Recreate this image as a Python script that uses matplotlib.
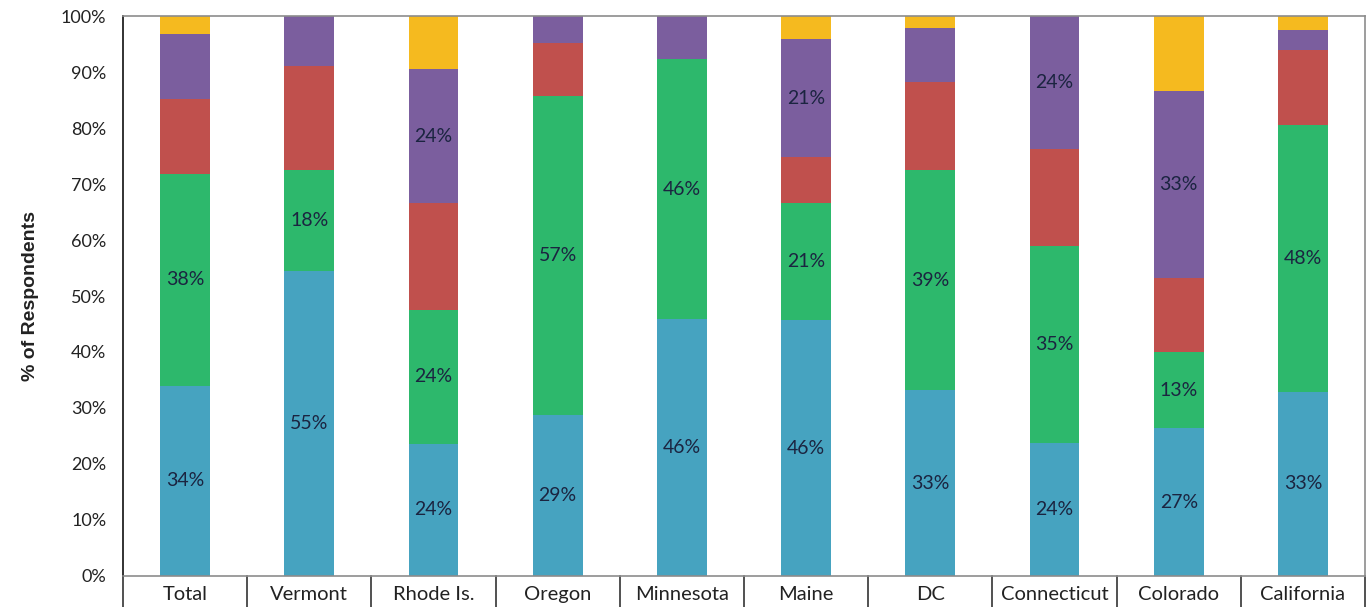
import matplotlib
matplotlib.use("Agg")
import matplotlib.pyplot as plt
import matplotlib.transforms as mtransforms
import numpy as np

# data (percent of respondents)
categories = ["Total", "Vermont", "Rhode Is.", "Oregon", "Minnesota",
              "Maine", "DC", "Connecticut", "Colorado", "California"]
blue = [34, 54.5, 23.6, 28.7, 45.9, 45.7, 33.2, 23.7, 26.4, 32.9]
green = [37.8, 18.0, 23.9, 57.0, 46.4, 20.9, 39.3, 35.2, 13.6, 47.6]
red = [13.4, 18.5, 19.1, 9.5, 0.0, 8.2, 15.7, 17.3, 13.2, 13.4]
purple = [11.6, 9.0, 23.9, 4.8, 7.7, 21.1, 9.7, 23.8, 33.4, 3.6]
yellow = [3.2, 0.0, 9.5, 0.0, 0.0, 4.1, 2.1, 0.0, 13.4, 2.5]

# which segments carry a label (None = no label)
blue_labels = ["34%", "55%", "24%", "29%", "46%", "46%", "33%", "24%", "27%", "33%"]
green_labels = ["38%", "18%", "24%", "57%", "46%", "21%", "39%", "35%", "13%", "48%"]
purple_labels = [None, None, "24%", None, None, "21%", None, "24%", "33%", None]

series = [blue, green, red, purple, yellow]
colors = ["#46A3C0", "#2DB86C", "#C0504D", "#7B5E9E", "#F5BA1F"]
series_labels = [blue_labels, green_labels, None, purple_labels, None]

fig = plt.figure(figsize=(13.69, 6.07), dpi=100)
ax = fig.add_axes([0.0898, 0.0511, 0.9073, 0.9225])

x = np.arange(len(categories))
bottom = np.zeros(len(categories))
for vals, col, labs in zip(series, colors, series_labels):
    vals = np.array(vals)
    ax.bar(x, vals, 0.4, bottom=bottom, color=col, edgecolor="none")
    if labs is not None:
        for i, lab in enumerate(labs):
            if lab is not None:
                ax.text(x[i], bottom[i] + vals[i] / 2, lab, ha="center", va="center",
                        fontsize=14, color="#1B2440", family="Lato")
    bottom = bottom + vals

ax.set_xlim(-0.5, len(categories) - 0.5)
ax.set_ylim(0, 100)
ax.set_yticks(np.arange(0, 101, 10))
ax.set_yticklabels([f"{v}%" for v in range(0, 101, 10)], family="Lato", fontsize=13)
ax.tick_params(axis="y", length=0, pad=12)
ax.tick_params(axis="x", length=0, pad=7)
ax.set_xticks(x)
ax.set_xticklabels(categories, family="Lato", fontsize=14.5)
for t in ax.get_xticklabels() + ax.get_yticklabels():
    t.set_color("#222222")

for side in ["top", "right", "bottom"]:
    ax.spines[side].set_color("#8C8C8C")
    ax.spines[side].set_linewidth(1.2)
ax.spines["left"].set_color("#222222")
ax.spines["left"].set_linewidth(1.3)

# table-like separators under the axis
trans = mtransforms.blended_transform_factory(ax.transData, ax.transAxes)
for b in np.arange(-0.5, len(categories), 1.0):
    ax.plot([b, b], [0, -0.06], transform=trans, color="#222222", lw=1.1, clip_on=False)

ax.set_ylabel("% of Respondents", fontsize=14, fontweight="bold",
              family="Liberation Sans", color="#222222", labelpad=16)

fig.savefig("out.png", dpi=100)
